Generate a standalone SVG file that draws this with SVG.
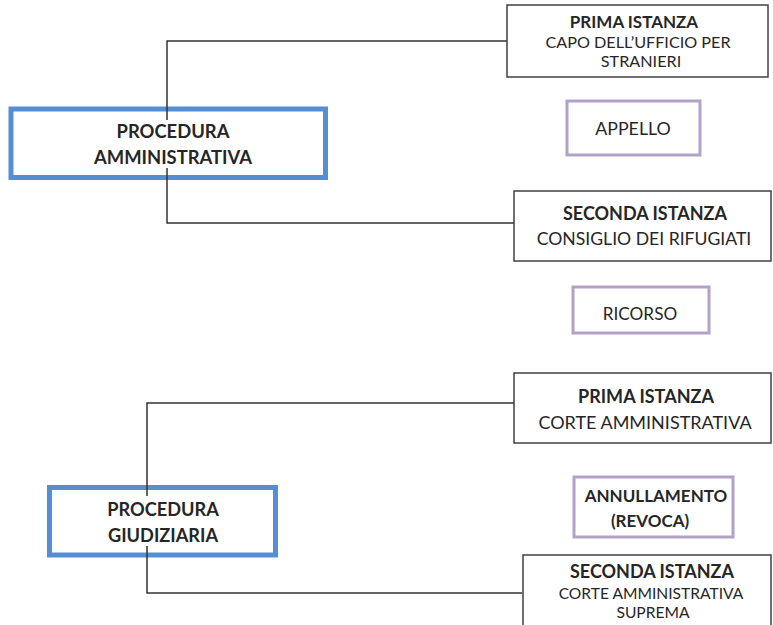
<svg xmlns="http://www.w3.org/2000/svg" width="773" height="625" viewBox="0 0 773 625">
<style>
text{font-family:Lato,"Open Sans","Liberation Sans",sans-serif;fill:#262626;text-anchor:middle}
.b{font-weight:bold}
.box{fill:#fff;stroke:#404040;stroke-width:1.5}
.main{fill:#fff;stroke:#558ED5;stroke-width:5}
.act{fill:#fff;stroke:#B3A2C7;stroke-width:3}
.conn{fill:none;stroke:#333;stroke-width:1.5}
</style>
<rect width="773" height="625" fill="#fff"/>
<g id="proc-amm">
<rect class="main" x="11" y="109" width="314.5" height="68.5"/>
<text class="b" x="173" y="138" font-size="18.4">PROCEDURA</text>
<text class="b" x="173" y="164" font-size="18.4">AMMINISTRATIVA</text>
</g>
<g id="proc-giud">
<rect class="main" x="49.5" y="487.5" width="226" height="67.5"/>
<text class="b" x="163" y="516" font-size="18.2">PROCEDURA</text>
<text class="b" x="163" y="542" font-size="18.2">GIUDIZIARIA</text>
</g>
<g id="connectors">
<path class="conn" d="M167,120 V41 H507"/>
<path class="conn" d="M167,168 V223 H514"/>
<path class="conn" d="M147,496 V403 H514"/>
<path class="conn" d="M147,546 V593 H522"/>
</g>
<g id="prima-amm">
<rect class="box" x="507" y="5" width="261" height="72"/>
<text class="b" x="634" y="28" font-size="17">PRIMA ISTANZA</text>
<text x="638" y="48" font-size="16.2">CAPO DELL’UFFICIO PER</text>
<text x="641" y="67" font-size="16.2">STRANIERI</text>
</g>
<g id="appello">
<rect class="act" x="567" y="101" width="133" height="54"/>
<text x="633" y="135" font-size="17.8">APPELLO</text>
</g>
<g id="seconda-amm">
<rect class="box" x="514" y="191" width="257" height="70"/>
<text class="b" x="645" y="220" font-size="18">SECONDA ISTANZA</text>
<text x="644" y="245" font-size="17.6">CONSIGLIO DEI RIFUGIATI</text>
</g>
<g id="ricorso">
<rect class="act" x="573" y="287" width="136" height="46"/>
<text x="640" y="320" font-size="17.2">RICORSO</text>
</g>
<g id="prima-giud">
<rect class="box" x="514" y="373" width="257" height="70"/>
<text class="b" x="646" y="403" font-size="18">PRIMA ISTANZA</text>
<text x="645" y="429" font-size="18">CORTE AMMINISTRATIVA</text>
</g>
<g id="annullamento">
<rect class="act" x="574" y="477" width="159" height="60"/>
<text class="b" x="656" y="502" font-size="17">ANNULLAMENTO</text>
<text class="b" x="650" y="527" font-size="17">(REVOCA)</text>
</g>
<g id="seconda-giud">
<rect class="box" x="523" y="555" width="248" height="80"/>
<text class="b" x="652" y="578" font-size="18">SECONDA ISTANZA</text>
<text x="651" y="599" font-size="15.6">CORTE AMMINISTRATIVA</text>
<text x="653" y="618" font-size="15.6">SUPREMA</text>
</g>
</svg>
